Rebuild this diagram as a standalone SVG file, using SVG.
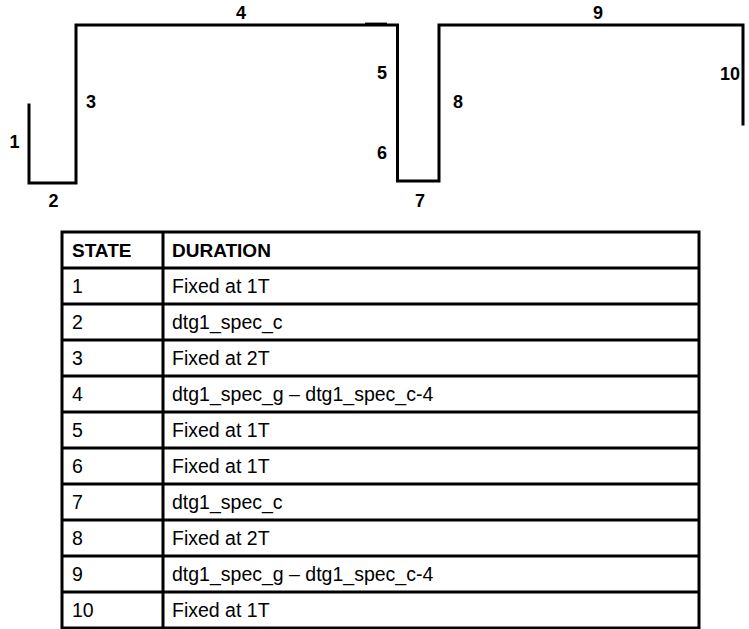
<svg xmlns="http://www.w3.org/2000/svg" width="749" height="629" viewBox="0 0 749 629">
<style>
.w{fill:none;stroke:#000;stroke-width:3;stroke-linejoin:miter;stroke-linecap:square}
.lbl{font-family:"Liberation Sans",Arial,sans-serif;font-size:18px;font-weight:bold;fill:#000;text-anchor:middle}
.grid{fill:none;stroke:#000;stroke-width:3}
.th{font-family:"Liberation Sans",Arial,sans-serif;font-size:19px;font-weight:bold;fill:#000}
.td{font-family:"Liberation Sans",Arial,sans-serif;font-size:19.5px;fill:#000}
</style>
<rect width="749" height="629" fill="#fff"/>
<g id="connectors">
<polyline id="waveform" class="w" points="29,105 29,183 76,183 76,25 397.5,25 397.5,181 439,181 439,25 743,25 743,124"/>
<line x1="365" y1="24.3" x2="387" y2="24.3" stroke="#000" stroke-width="3.4"/>
</g>
<g id="labels">
<text class="lbl" x="14.5" y="148">1</text>
<text class="lbl" x="53.5" y="207">2</text>
<text class="lbl" x="91" y="108">3</text>
<text class="lbl" x="241" y="19">4</text>
<text class="lbl" x="382" y="79">5</text>
<text class="lbl" x="382" y="159">6</text>
<text class="lbl" x="420" y="207">7</text>
<text class="lbl" x="458" y="108">8</text>
<text class="lbl" x="598" y="19">9</text>
<text class="lbl" x="730" y="80">10</text>
</g>
<g id="table">
<rect class="grid" x="62" y="232" width="637" height="396"/>
<line class="grid" x1="163" y1="232" x2="163" y2="628"/>
<g class="grid">
<line x1="62" y1="268" x2="699" y2="268"/>
<line x1="62" y1="304" x2="699" y2="304"/>
<line x1="62" y1="340" x2="699" y2="340"/>
<line x1="62" y1="376" x2="699" y2="376"/>
<line x1="62" y1="412" x2="699" y2="412"/>
<line x1="62" y1="448" x2="699" y2="448"/>
<line x1="62" y1="484" x2="699" y2="484"/>
<line x1="62" y1="520" x2="699" y2="520"/>
<line x1="62" y1="556" x2="699" y2="556"/>
<line x1="62" y1="592" x2="699" y2="592"/>
</g>
<text class="th" x="72" y="257">STATE</text>
<text class="th" x="172" y="257">DURATION</text>
<text class="td" x="72" y="293">1</text><text class="td" x="172" y="293">Fixed at 1T</text>
<text class="td" x="72" y="329">2</text><text class="td" x="172" y="329">dtg1_spec_c</text>
<text class="td" x="72" y="365">3</text><text class="td" x="172" y="365">Fixed at 2T</text>
<text class="td" x="72" y="401">4</text><text class="td" x="172" y="401">dtg1_spec_g – dtg1_spec_c-4</text>
<text class="td" x="72" y="437">5</text><text class="td" x="172" y="437">Fixed at 1T</text>
<text class="td" x="72" y="473">6</text><text class="td" x="172" y="473">Fixed at 1T</text>
<text class="td" x="72" y="509">7</text><text class="td" x="172" y="509">dtg1_spec_c</text>
<text class="td" x="72" y="545">8</text><text class="td" x="172" y="545">Fixed at 2T</text>
<text class="td" x="72" y="581">9</text><text class="td" x="172" y="581">dtg1_spec_g – dtg1_spec_c-4</text>
<text class="td" x="72" y="617">10</text><text class="td" x="172" y="617">Fixed at 1T</text>
</g>
</svg>
